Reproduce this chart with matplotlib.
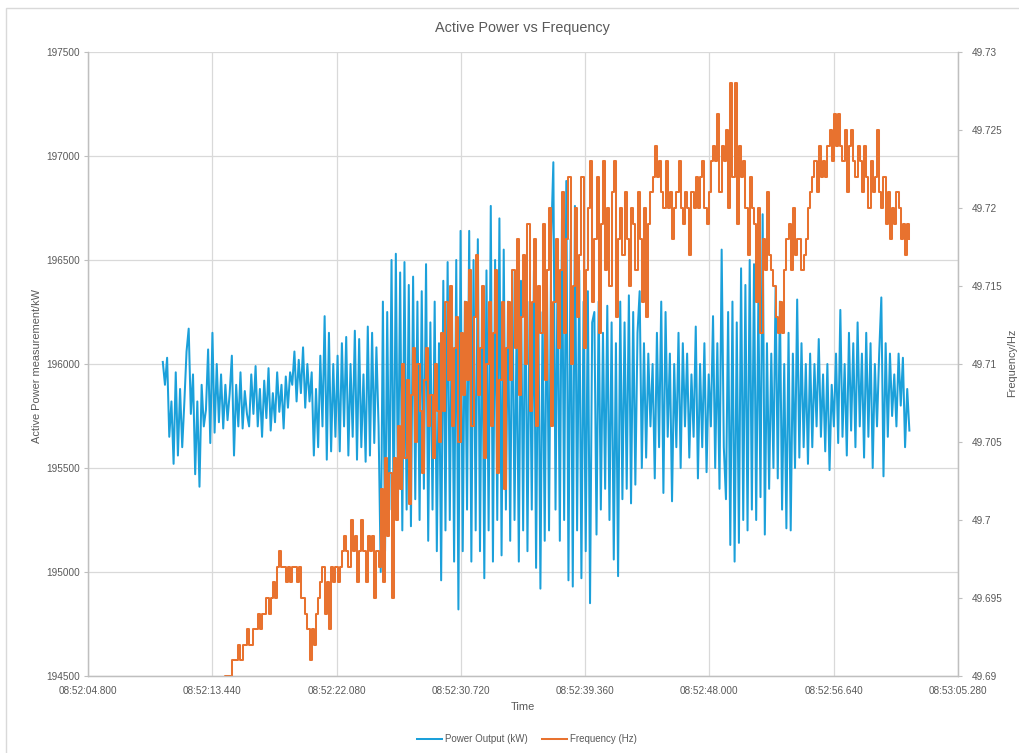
import numpy as np
import matplotlib
matplotlib.use("Agg")
import matplotlib.pyplot as plt
from matplotlib.patches import Rectangle

# ---------------- data ----------------
# time axis: seconds after 08:52:00, samples every 0.15 s starting at 10.0 s
t_start = 10.0
t_step = 0.15

power_kw = [
    196010,195900,196030,195650,195820,195520,195960,195560,195880,195600,195820,196060,196170,195760,195950,195470,195820,195410,195900,195700,
    195780,196070,195620,196150,195670,196000,195720,195950,195690,195900,195730,195860,196040,195560,195900,195700,195960,195690,195870,195760,
    195700,195950,195760,195990,195700,195880,195650,195920,195740,195980,195680,195860,195720,195960,195770,195900,195690,195940,195790,195960,
    195900,196060,195820,196020,195860,196080,195790,196000,195820,195960,195560,195880,195600,196040,195700,196230,195540,196150,195580,196000,
    195650,196040,195580,196100,195700,196130,195560,196000,195650,196160,195540,196120,195600,195950,195530,196180,195560,196150,195620,196080,
    195700,195000,196300,195100,196250,195300,196500,195250,196530,195350,196440,195200,196490,195300,196380,195220,196420,195350,196300,195250,
    196350,195400,196480,195150,196200,195300,196300,195100,196100,194960,196400,195200,196490,195250,196300,195050,196500,194820,196640,195100,
    196300,195300,196640,195050,196500,195200,196600,195100,196350,194970,196450,195200,196760,195050,196500,195250,196700,195080,196550,195300,
    196300,195150,196450,195250,196200,195050,196400,195200,196500,195100,196300,195300,196450,195020,196350,194920,196250,195150,196450,195200,
    196600,196970,195300,196500,195150,196700,195250,196880,194960,196600,194930,196760,195200,196450,194970,196300,195100,196350,194850,196200,
    196250,195180,196300,195300,196150,195400,196280,195250,196200,195060,196100,194980,196300,195350,196200,195400,196330,195330,196250,195420,
    196150,196350,195500,196100,195550,196050,195700,196000,195450,196150,195600,196300,195380,196250,195650,196050,195340,196000,195600,196150,
    195500,196100,195700,196050,195550,195950,195650,196180,195450,196000,195600,196100,195480,195950,195700,196230,195500,196100,195400,196550,
    195600,195350,196250,195130,196300,195050,196200,195140,196460,195250,196380,195200,196500,195300,196480,195250,196300,195360,196720,195180,
    196100,195400,196050,195500,196370,195450,196300,195300,196000,195210,196150,195200,196050,195500,196310,195550,196100,195600,196000,195520,
    196050,195600,196000,195700,196120,195650,195950,195580,196000,195490,195900,195700,196050,195620,196260,195650,196000,195560,196150,195680,
    196100,195600,196200,195700,196050,195550,196150,195650,196100,195500,196000,195700,196050,196320,195460,196100,195650,196050,195750,195950,
    195700,196050,195800,196030,195600,195880,195680,
]

frequency_hz = [
    49.686,49.686,49.687,49.686,49.687,49.687,49.686,49.687,49.687,49.688,49.687,49.688,49.688,49.687,49.688,49.688,49.688,49.689,49.688,49.689,
    49.689,49.688,49.689,49.689,49.688,49.689,49.689,49.689,49.689,49.690,49.690,49.690,49.691,49.691,49.691,49.692,49.691,49.692,49.692,49.693,
    49.692,49.692,49.693,49.693,49.694,49.693,49.694,49.694,49.695,49.694,49.695,49.696,49.695,49.697,49.698,49.697,49.697,49.696,49.697,49.696,
    49.697,49.697,49.696,49.697,49.695,49.695,49.694,49.693,49.691,49.693,49.692,49.694,49.695,49.696,49.697,49.694,49.696,49.693,49.697,49.696,
    49.697,49.696,49.697,49.698,49.699,49.698,49.697,49.700,49.698,49.699,49.696,49.698,49.700,49.698,49.696,49.699,49.698,49.699,49.695,49.698,
    49.697,49.702,49.696,49.704,49.699,49.703,49.695,49.704,49.700,49.706,49.702,49.710,49.704,49.709,49.701,49.708,49.711,49.705,49.710,49.707,
    49.703,49.709,49.711,49.706,49.708,49.704,49.710,49.707,49.705,49.712,49.707,49.714,49.709,49.715,49.706,49.711,49.713,49.705,49.712,49.708,
    49.714,49.709,49.716,49.706,49.713,49.717,49.708,49.711,49.715,49.704,49.710,49.714,49.706,49.712,49.716,49.703,49.709,49.714,49.702,49.711,
    49.714,49.709,49.716,49.711,49.718,49.708,49.713,49.717,49.710,49.719,49.707,49.714,49.718,49.706,49.715,49.712,49.719,49.709,49.716,49.720,
    49.706,49.714,49.718,49.711,49.716,49.721,49.712,49.718,49.722,49.710,49.715,49.720,49.713,49.717,49.722,49.711,49.716,49.720,49.723,49.714,
    49.718,49.722,49.712,49.719,49.723,49.716,49.720,49.715,49.721,49.723,49.713,49.718,49.720,49.717,49.721,49.718,49.715,49.720,49.719,49.716,
    49.721,49.718,49.714,49.720,49.713,49.719,49.721,49.722,49.724,49.722,49.723,49.721,49.720,49.723,49.720,49.721,49.718,49.720,49.721,49.723,
    49.720,49.719,49.721,49.720,49.717,49.721,49.720,49.722,49.720,49.722,49.723,49.720,49.719,49.721,49.723,49.724,49.723,49.726,49.721,49.724,
    49.723,49.725,49.720,49.728,49.722,49.728,49.719,49.724,49.722,49.723,49.720,49.717,49.722,49.720,49.719,49.714,49.720,49.712,49.718,49.716,
    49.721,49.717,49.716,49.715,49.713,49.712,49.714,49.712,49.716,49.718,49.719,49.716,49.720,49.717,49.718,49.718,49.716,49.717,49.718,49.720,
    49.721,49.722,49.723,49.721,49.724,49.722,49.723,49.722,49.724,49.725,49.723,49.726,49.724,49.726,49.724,49.723,49.725,49.721,49.724,49.725,
    49.723,49.722,49.724,49.723,49.721,49.724,49.722,49.720,49.723,49.721,49.722,49.725,49.721,49.720,49.722,49.719,49.721,49.718,49.720,49.719,
    49.721,49.720,49.718,49.719,49.717,49.719,49.718,
]

x_tick_pos = [4.80, 13.44, 22.08, 30.72, 39.36, 48.00, 56.64, 65.28]
x_tick_labels = ["08:52:04.800", "08:52:13.440", "08:52:22.080", "08:52:30.720",
                 "08:52:39.360", "08:52:48.000", "08:52:56.640", "08:53:05.280"]
power_ticks = [194500, 195000, 195500, 196000, 196500, 197000, 197500]
freq_ticks = [49.69, 49.695, 49.70, 49.705, 49.71, 49.715, 49.72, 49.725, 49.73]
freq_tick_labels = ["49.69", "49.695", "49.7", "49.705", "49.71", "49.715", "49.72", "49.725", "49.73"]

# ---------------- style ----------------
plt.rcParams['font.family'] = ['Liberation Sans', 'DejaVu Sans']
TXT = '#595959'
GRID = '#d9d9d9'
AXC = '#bfbfbf'
BLUE = '#1BA0DA'
ORANGE = '#E8722F'

W, H = 1020, 753
fig = plt.figure(figsize=(W / 100, H / 100), dpi=100)
fig.patch.set_facecolor('white')

# outer chart border
fig.patches.append(Rectangle((6 / W, -0.05), 1.2, (H - 8) / H + 0.05, transform=fig.transFigure,
                             fill=False, edgecolor=GRID, lw=1.0))

L, R, T, B = 88, 958, 52, 676
ax = fig.add_axes([L / W, 1 - B / H, (R - L) / W, (B - T) / H])
t = t_start + t_step * np.arange(len(power_kw))

ax.plot(t, power_kw, color=BLUE, lw=1.45, label='Power Output (kW)', zorder=3)
ax.set_xlim(x_tick_pos[0], x_tick_pos[-1])
ax.set_ylim(power_ticks[0], power_ticks[-1])
ax.set_xticks(x_tick_pos)
ax.set_xticklabels(x_tick_labels)
ax.set_yticks(power_ticks)
ax.set_yticklabels([str(v) for v in power_ticks])
ax.grid(True, color=GRID, lw=0.9, zorder=0)
ax.set_axisbelow(True)

ax2 = ax.twinx()
ax2.plot(t, frequency_hz, color=ORANGE, lw=1.45, drawstyle='steps-post', label='Frequency (Hz)')
ax2.set_ylim(freq_ticks[0], freq_ticks[-1])
ax2.set_yticks(freq_ticks)
ax2.set_yticklabels(freq_tick_labels)

for a in (ax, ax2):
    a.spines['top'].set_visible(False)
    for s in ('left', 'right', 'bottom'):
        a.spines[s].set_color(AXC)
        a.spines[s].set_linewidth(0.9)
ax.tick_params(axis='x', length=0, pad=7.5, labelsize=7.2, labelcolor=TXT)
ax.tick_params(axis='y', length=3, color=AXC, pad=3, labelsize=7.2, labelcolor=TXT)
ax2.tick_params(axis='y', length=3, color=AXC, pad=7, labelsize=7.2, labelcolor=TXT)

fig.text(522 / W, 1 - 28 / H, 'Active Power vs Frequency', ha='center', va='center',
         fontsize=10.4, color=TXT)
fig.text(523 / W, 1 - 707 / H, 'Time', ha='center', va='center', fontsize=7.9, color=TXT)
fig.text(37 / W, 1 - 366 / H, 'Active Power measurement/kW', ha='center', va='center',
         rotation=90, fontsize=7.9, color=TXT)
fig.text(1012 / W, 1 - 363 / H, 'Frequency/Hz', ha='center', va='center',
         rotation=90, fontsize=7.9, color=TXT)

h1, l1 = ax.get_legend_handles_labels()
h2, l2 = ax2.get_legend_handles_labels()
fig.legend(h1 + h2, l1 + l2, loc='center', bbox_to_anchor=(527 / W, 1 - 739 / H), ncol=2,
           frameon=False, fontsize=7, handlelength=2.6, handletextpad=0.3, columnspacing=1.4,
           labelcolor=TXT)

fig.savefig('out.png', dpi=100)
